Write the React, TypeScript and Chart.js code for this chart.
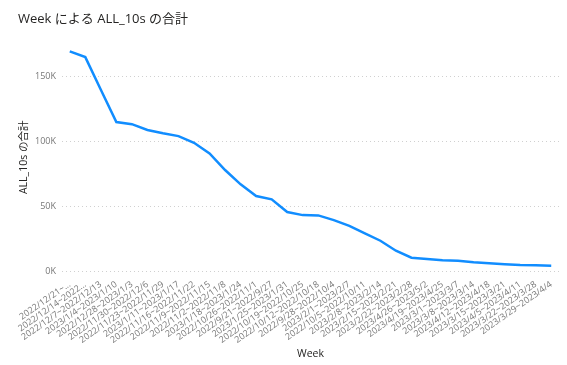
import React, { useEffect, useRef } from "react";
import { Chart, registerables } from "chart.js";

Chart.register(...registerables);

const weeks: string[] = [
  "2022/12/21~...",
  "2022/12/14~2022...",
  "2022/12/7~2022/12/13",
  "2023/1/4~2023/1/10",
  "2022/12/28~2023/1/3",
  "2022/11/30~2022/12/6",
  "2022/11/23~2022/11/29",
  "2023/1/11~2023/1/17",
  "2022/11/16~2022/11/22",
  "2022/11/9~2022/11/15",
  "2022/11/2~2022/11/8",
  "2023/1/18~2023/1/24",
  "2022/10/26~2022/11/1",
  "2022/9/21~2022/9/27",
  "2023/1/25~2023/1/31",
  "2022/10/19~2022/10/25",
  "2022/10/12~2022/10/18",
  "2022/9/28~2022/10/4",
  "2023/2/1~2023/2/7",
  "2022/10/5~2022/10/11",
  "2023/2/8~2023/2/14",
  "2023/2/15~2023/2/21",
  "2023/2/22~2023/2/28",
  "2023/4/26~2023/5/2",
  "2023/4/19~2023/4/25",
  "2023/3/1~2023/3/7",
  "2023/3/8~2023/3/14",
  "2023/4/12~2023/4/18",
  "2023/3/15~2023/3/21",
  "2023/4/5~2023/4/11",
  "2023/3/22~2023/3/28",
  "2023/3/29~2023/4/4",
];

const all10s: number[] = [
  169000, 164600, 139500, 114600, 113000, 108500, 106000, 103800, 98700, 90500,
  77700, 66700, 57700, 55100, 45400, 43000, 42800, 39200, 34800, 29000, 23300,
  15600, 10200, 9200, 8200, 7900, 6700, 5900, 5200, 4600, 4400, 4100,
];

const yTicks: number[] = [0, 50000, 100000, 150000];

const FONT = "'Open Sans', 'Noto Sans CJK JP', sans-serif";

export default function App() {
  const ref = useRef<HTMLCanvasElement | null>(null);
  useEffect(() => {
    if (!ref.current) return;
    const chart = new Chart(ref.current, {
      type: "line",
      data: {
        labels: weeks,
        datasets: [
          {
            data: all10s,
            borderColor: "#118DFF",
            borderWidth: 2.5,
            pointRadius: 0,
            tension: 0,
            fill: false,
          },
        ],
      },
      options: {
        animation: false,
        responsive: false,
        maintainAspectRatio: false,
        layout: { padding: { left: 18, right: 8, top: 0, bottom: 3 } },
        plugins: {
          legend: { display: false },
          tooltip: { enabled: false },
          title: {
            display: true,
            text: "Week による ALL_10s の合計",
            align: "start",
            color: "#252423",
            font: { family: FONT, size: 13, weight: "normal" },
            padding: { top: 11, bottom: 17 },
          },
        },
        scales: {
          x: {
            offset: true,
            grid: { display: false },
            border: { display: false },
            ticks: {
              autoSkip: false,
              minRotation: 35,
              maxRotation: 35,
              color: "#777777",
              font: { family: FONT, size: 9 },
              padding: 0,
            },
            title: {
              display: true,
              text: "Week",
              color: "#252423",
              font: { family: FONT, size: 10.5 },
              padding: { top: 4, bottom: 2 },
            },
            afterFit: (s: any) => {
              s.height = 91;
            },
          },
          y: {
            min: 0,
            max: 175000,
            afterBuildTicks: (s: any) => {
              s.ticks = yTicks.map((v) => ({ value: v }));
            },
            grid: {
              color: "#D0D0D0",
              drawTicks: false,
              lineWidth: 1,
            },
            border: { display: false, dash: [1, 3] },
            ticks: {
              color: "#777777",
              font: { family: FONT, size: 9 },
              padding: 6,
              callback: (v: any) => `${Math.round(Number(v) / 1000)}K`,
            },
            title: {
              display: true,
              text: "ALL_10s の合計",
              color: "#252423",
              font: { family: FONT, size: 10.5 },
              padding: { top: 0, bottom: 4 },
            },
            afterFit: (s: any) => {
              s.width = 44;
            },
          },
        },
      },
    });
    return () => chart.destroy();
  }, []);
  return (
    <div style={{ position: "fixed", left: 0, top: 0, width: 567, height: 365, background: "#fff" }}>
      <canvas ref={ref} width={567} height={365} style={{ width: 567, height: 365 }} />
    </div>
  );
}
